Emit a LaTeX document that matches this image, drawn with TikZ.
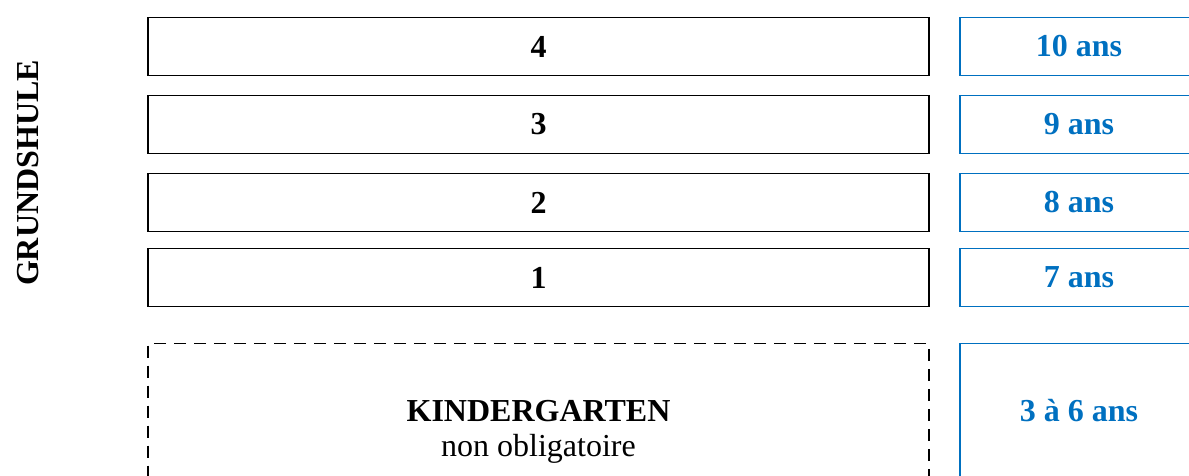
\documentclass[tikz,border=0pt]{standalone}
\usepackage{fontspec}
\setmainfont{Liberation Serif}
\usetikzlibrary{positioning}
\definecolor{ageblue}{RGB}{0,112,192}
\tikzstyle{classe} = [rectangle, minimum width=390.5pt, minimum height=29pt, inner sep=0pt, outer sep=0pt, draw=black, line width=0.9pt, font=\fontsize{16}{17.5}\selectfont\bfseries]
\tikzstyle{age} = [rectangle, minimum width=119pt, minimum height=29pt, inner sep=0pt, outer sep=0pt, draw=ageblue, text=ageblue, line width=0.9pt, font=\fontsize{16}{17.5}\selectfont\bfseries]

\begin{document}
\begin{tikzpicture}[x=0.5pt, y=-0.5pt, node distance=10pt]
        \useasboundingbox (0,0) rectangle (1189,476);
        \clip (0,0) rectangle (1189,476);
        \node (gs) [rotate=90, font=\fontsize{16}{17.5}\selectfont\bfseries] at (28,173) {GRUNDSHULE};

        \node (c4) [classe] at (538.5,46.5) {4};
        \node (c3) [classe, below=of c4] {3};
        \node (c2) [classe, below=of c3] {2};
        \node (c1) [classe, below=8.5pt of c2] {1};
        \node (kg) [classe, dashed, dash pattern=on 6pt off 4pt, minimum height=88pt, align=center, below=18.5pt of c1] {KINDERGARTEN\\\mdseries non obligatoire};

        \node (a4) [age, right=15.5pt of c4] {10 ans};
        \node (a3) [age, right=15.5pt of c3] {9 ans};
        \node (a2) [age, right=15.5pt of c2] {8 ans};
        \node (a1) [age, right=15.5pt of c1] {7 ans};
        \node (ak) [age, minimum height=67pt, anchor=north west] at ([xshift=15.5pt]kg.north east) {3 à 6 ans};
    \end{tikzpicture}
\end{document}
